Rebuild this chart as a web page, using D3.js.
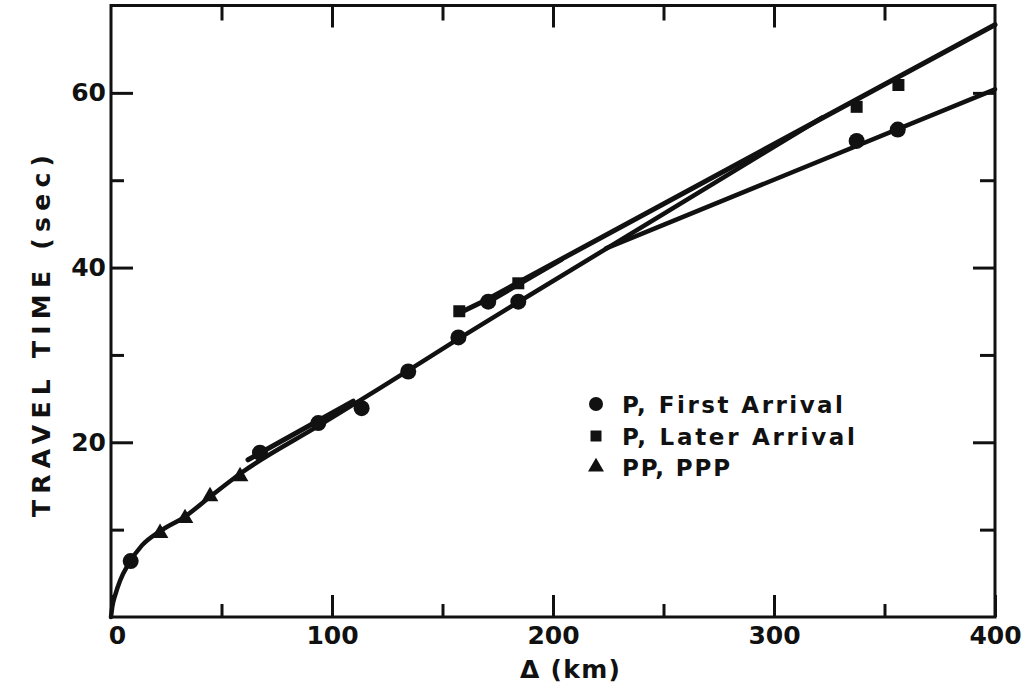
<!DOCTYPE html>
<html>
<head>
<meta charset="utf-8">
<script src="https://cdn.jsdelivr.net/npm/d3@7"></script>
<style>
  html, body { margin: 0; padding: 0; background: #fff; }
  svg { display: block; }
  text { font-family: "DejaVu Sans", sans-serif; font-weight: bold; fill: #111; }
</style>
</head>
<body>
<svg id="chart" width="1027" height="689"></svg>
<script>
// ---- data (distance in km, travel time in s) ----
const firstArrivalX = [8.9, 67.4, 93.8, 113.4, 134.5, 157.2, 170.7, 184.3, 337.4, 356.0];
const firstArrivalT = [6.4, 18.8, 22.2, 23.9, 28.1, 32.0, 36.1, 36.1, 54.5, 55.8];
const laterArrivalX = [157.6, 184.3, 337.4, 356.3];
const laterArrivalT = [35.0, 38.2, 58.4, 60.9];
const ppX = [22.2, 33.5, 44.8, 58.4];
const ppT = [9.6, 11.3, 13.8, 16.1];

// travel-time curves
const branchAX = [0, 0.6, 2, 4, 8, 14, 22, 33.5, 45, 58.4, 94, 121.7, 157, 184, 322];
const branchAT = [0, 1.2, 2.6, 4.1, 6.1, 8.2, 9.8, 11.5, 13.8, 16.4, 21.9, 26.2, 31.8, 36.0, 57.2];
const shortLaterX = [62, 109.6];
const shortLaterT = [18.0, 24.7];
const branchUX = [157.6, 170.7, 184.3, 400];
const branchUT = [34.8, 36.4, 38.3, 67.8];
const branchBX = [170.7, 204];
const branchBT = [36.0, 40.9];
const branchLX = [224, 400];
const branchLT = [42.2, 60.4];

// axes
const xMajorTicks = [0, 100, 200, 300, 400];
const xMinorTicks = [50, 150, 250, 350];
const yMajorTicks = [20, 40, 60];
const yMinorTicks = [10, 30, 50];

const legendLabels = ["P, First Arrival", "P, Later Arrival", "PP, PPP"];
const xTitle = "Δ (km)";
const yTitle = "TRAVEL TIME  (sec)";

// ---- layout ----
const L = 111, R = 995, T = 5.5, B = 617;
const x = d3.scaleLinear().domain([0, 400]).range([L, R]);
const y = d3.scaleLinear().domain([0, 70]).range([B, T]);

const svg = d3.select("#chart");
svg.append("rect").attr("width", 1027).attr("height", 689).attr("fill", "#fff");

// frame
svg.append("rect").attr("x", L).attr("y", T).attr("width", R - L).attr("height", B - T)
  .attr("fill", "none").attr("stroke", "#111").attr("stroke-width", 3);

const MAJ = 22, MIN = 13;
function styleAxis(g) {
  g.select(".domain").remove();
  g.selectAll(".tick line").attr("stroke", "#111").attr("stroke-width", 3);
  g.selectAll(".tick text").style("font-size", "25px").attr("fill", "#111");
}
// bottom
svg.append("g").attr("transform", `translate(0,${B})`)
  .call(d3.axisBottom(x).tickValues(xMajorTicks).tickSize(-MAJ).tickPadding(8).tickFormat(d3.format("d")))
  .call(styleAxis)
  .call(g => g.selectAll(".tick text").attr("dx", d => d === 0 ? 6 : 0).attr("dy", "0.74em"));
svg.append("g").attr("transform", `translate(0,${B})`)
  .call(d3.axisBottom(x).tickValues(xMinorTicks).tickSize(-MIN).tickFormat(""))
  .call(styleAxis);
// top
svg.append("g").attr("transform", `translate(0,${T})`)
  .call(d3.axisTop(x).tickValues([100, 200, 300]).tickSize(-MAJ).tickFormat(""))
  .call(styleAxis);
svg.append("g").attr("transform", `translate(0,${T})`)
  .call(d3.axisTop(x).tickValues(xMinorTicks).tickSize(-15).tickFormat(""))
  .call(styleAxis);
// left
svg.append("g").attr("transform", `translate(${L},0)`)
  .call(d3.axisLeft(y).tickValues(yMajorTicks).tickSize(-MAJ).tickPadding(5).tickFormat(d3.format("d")))
  .call(styleAxis);
svg.append("g").attr("transform", `translate(${L},0)`)
  .call(d3.axisLeft(y).tickValues(yMinorTicks).tickSize(-MIN).tickFormat(""))
  .call(styleAxis);
// right
svg.append("g").attr("transform", `translate(${R},0)`)
  .call(d3.axisRight(y).tickValues(yMajorTicks).tickSize(-MAJ).tickFormat(""))
  .call(styleAxis);
svg.append("g").attr("transform", `translate(${R},0)`)
  .call(d3.axisRight(y).tickValues(yMinorTicks).tickSize(-15).tickFormat(""))
  .call(styleAxis);

// axis titles
svg.append("text").attr("x", 570).attr("y", 678).attr("text-anchor", "middle")
  .style("font-size", "25px").attr("textLength", 100).attr("lengthAdjust", "spacing").text(xTitle);
svg.append("text").attr("transform", "translate(50,336) rotate(-90)").attr("text-anchor", "middle")
  .style("font-size", "25px").attr("textLength", 362).attr("lengthAdjust", "spacing").text(yTitle);

// ---- curves ----
const zip = (xs, ts) => xs.map((v, i) => [v, ts[i]]);
const lineMono = d3.line().x(d => x(d[0])).y(d => y(d[1])).curve(d3.curveMonotoneX);
const lineStraight = d3.line().x(d => x(d[0])).y(d => y(d[1]));
const curveG = svg.append("g").attr("fill", "none").attr("stroke", "#111")
  .attr("stroke-linecap", "round").attr("stroke-linejoin", "round");
curveG.append("path").attr("d", lineMono(zip(branchAX, branchAT))).attr("stroke-width", 4.5);
curveG.append("path").attr("d", lineStraight(zip(shortLaterX, shortLaterT))).attr("stroke-width", 5);
curveG.append("path").attr("d", lineStraight(zip(branchUX, branchUT))).attr("stroke-width", 5);
curveG.append("path").attr("d", lineStraight(zip(branchBX, branchBT))).attr("stroke-width", 4);
curveG.append("path").attr("d", lineStraight(zip(branchLX, branchLT))).attr("stroke-width", 4.5);

// ---- markers ----
const markG = svg.append("g").attr("fill", "#111");
const circ = d3.symbol().type(d3.symbolCircle).size(Math.PI * 8 * 8);
const sq = d3.symbol().type(d3.symbolSquare).size(12 * 12);
const tri = d3.symbol().type(d3.symbolTriangle).size(120);
markG.selectAll(".fa").data(zip(firstArrivalX, firstArrivalT)).join("path")
  .attr("transform", d => `translate(${x(d[0])},${y(d[1])})`).attr("d", circ);
markG.selectAll(".la").data(zip(laterArrivalX, laterArrivalT)).join("path")
  .attr("transform", d => `translate(${x(d[0])},${y(d[1])})`).attr("d", sq);
markG.selectAll(".pp").data(zip(ppX, ppT)).join("path")
  .attr("transform", d => `translate(${x(d[0])},${y(d[1])})`).attr("d", tri);

// ---- legend ----
const legendSym = [
  d3.symbol().type(d3.symbolCircle).size(Math.PI * 7 * 7),
  d3.symbol().type(d3.symbolSquare).size(11 * 11),
  d3.symbol().type(d3.symbolTriangle).size(110)
];
const legendY = [404, 436, 467];
const legendW = [221, 233, 108];
const lg = svg.append("g");
legendLabels.forEach((lab, i) => {
  lg.append("path").attr("transform", `translate(596,${legendY[i]})`).attr("d", legendSym[i]()).attr("fill", "#111");
  lg.append("text").attr("x", 622).attr("y", legendY[i] + 8.5).style("font-size", "23px")
    .attr("textLength", legendW[i]).attr("lengthAdjust", "spacing").text(lab);
});
</script>
</body>
</html>
